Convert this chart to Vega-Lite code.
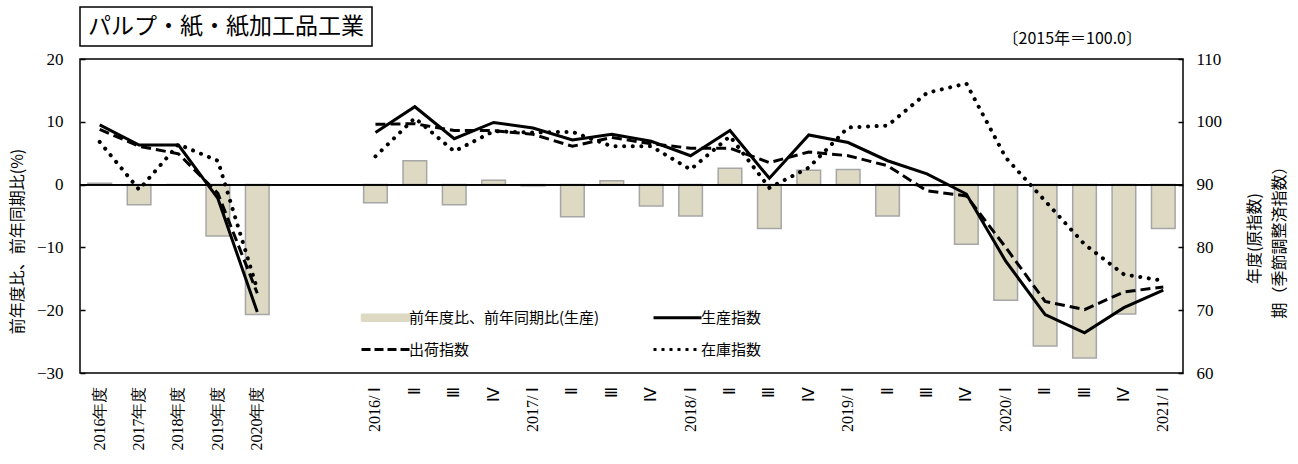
{
  "$schema": "https://vega.github.io/schema/vega-lite/v6.json",
  "padding": {"left": 8, "top": 6, "right": 0, "bottom": 0},
  "autosize": {"type": "pad"},
  "bounds": "flush",
  "spacing": 13,
  "config": {"font": "Noto Sans CJK JP"},
  "datasets": {
    "main": [
      {"x": "2016年度", "g": "a", "bar": 0.2, "prod": 99.5, "ship": 98.8, "inv": 96.8},
      {"x": "2017年度", "g": "a", "bar": -3.2, "prod": 96.3, "ship": 96.1, "inv": 89.2},
      {"x": "2018年度", "g": "a", "bar": 0.0, "prod": 96.3, "ship": 94.9, "inv": 96.4},
      {"x": "2019年度", "g": "a", "bar": -8.2, "prod": 87.8, "ship": 88.6, "inv": 93.8},
      {"x": "2020年度", "g": "a", "bar": -20.7, "prod": 69.7, "ship": 72.7, "inv": 73.3},
      {"x": "2016/Ⅰ", "g": "q", "bar": -2.9, "prod": 98.3, "ship": 99.6, "inv": 94.5},
      {"x": "2016/Ⅱ", "g": "q", "bar": 3.8, "prod": 102.4, "ship": 99.7, "inv": 100.6},
      {"x": "2016/Ⅲ", "g": "q", "bar": -3.2, "prod": 97.3, "ship": 98.6, "inv": 95.3},
      {"x": "2016/Ⅳ", "g": "q", "bar": 0.7, "prod": 99.9, "ship": 98.6, "inv": 98.5},
      {"x": "2017/Ⅰ", "g": "q", "bar": -0.2, "prod": 99.0, "ship": 98.0, "inv": 98.3},
      {"x": "2017/Ⅱ", "g": "q", "bar": -5.1, "prod": 97.1, "ship": 96.1, "inv": 98.4},
      {"x": "2017/Ⅲ", "g": "q", "bar": 0.6, "prod": 98.0, "ship": 97.5, "inv": 96.1},
      {"x": "2017/Ⅳ", "g": "q", "bar": -3.4, "prod": 96.9, "ship": 96.5, "inv": 96.1},
      {"x": "2018/Ⅰ", "g": "q", "bar": -5.0, "prod": 94.6, "ship": 95.8, "inv": 92.4},
      {"x": "2018/Ⅱ", "g": "q", "bar": 2.6, "prod": 98.6, "ship": 95.8, "inv": 97.7},
      {"x": "2018/Ⅲ", "g": "q", "bar": -7.0, "prod": 91.0, "ship": 93.5, "inv": 89.5},
      {"x": "2018/Ⅳ", "g": "q", "bar": 2.3, "prod": 97.9, "ship": 95.2, "inv": 92.7},
      {"x": "2019/Ⅰ", "g": "q", "bar": 2.4, "prod": 96.7, "ship": 94.6, "inv": 99.1},
      {"x": "2019/Ⅱ", "g": "q", "bar": -5.0, "prod": 93.8, "ship": 93.0, "inv": 99.4},
      {"x": "2019/Ⅲ", "g": "q", "bar": -0.2, "prod": 91.7, "ship": 89.0, "inv": 104.6},
      {"x": "2019/Ⅳ", "g": "q", "bar": -9.5, "prod": 88.5, "ship": 88.2, "inv": 106.1},
      {"x": "2020/Ⅰ", "g": "q", "bar": -18.4, "prod": 77.8, "ship": 80.0, "inv": 94.3},
      {"x": "2020/Ⅱ", "g": "q", "bar": -25.7, "prod": 69.3, "ship": 71.4, "inv": 87.4},
      {"x": "2020/Ⅲ", "g": "q", "bar": -27.6, "prod": 66.4, "ship": 70.1, "inv": 80.5},
      {"x": "2020/Ⅳ", "g": "q", "bar": -20.6, "prod": 70.4, "ship": 72.9, "inv": 75.7},
      {"x": "2021/Ⅰ", "g": "q", "bar": -7.0, "prod": 73.2, "ship": 73.7, "inv": 74.7}
    ]
  },
  "vconcat": [
    {
      "width": 292,
      "height": 39,
      "view": {"stroke": "black", "strokeWidth": 1.5},
      "data": {"values": [{"t": "パルプ・紙・紙加工品工業"}]},
      "mark": {"type": "text", "fontSize": 23, "font": "Noto Sans CJK JP", "color": "black"},
      "encoding": {"text": {"field": "t", "type": "nominal"}}
    },
    {
      "width": 1103,
      "height": 314,
      "view": {"stroke": "black", "strokeWidth": 1.5},
      "data": {"name": "main"},
      "title": {"text": "〔2015年＝100.0〕", "anchor": "end", "frame": "group", "fontSize": 16, "font": "Noto Sans CJK JP", "fontWeight": "normal", "color": "black", "dx": -41, "offset": 3},
      "resolve": {"scale": {"y": "independent"}},
      "layer": [
        {
          "layer": [
            {
              "mark": {"type": "bar", "stroke": "#a6a6a6", "strokeWidth": 1.5},
              "encoding": {
                "x": {"field": "x", "type": "nominal", "sort": null,
                  "scale": {"domain": ["2016年度","2017年度","2018年度","2019年度","2020年度","gap1","gap2","2016/Ⅰ","2016/Ⅱ","2016/Ⅲ","2016/Ⅳ","2017/Ⅰ","2017/Ⅱ","2017/Ⅲ","2017/Ⅳ","2018/Ⅰ","2018/Ⅱ","2018/Ⅲ","2018/Ⅳ","2019/Ⅰ","2019/Ⅱ","2019/Ⅲ","2019/Ⅳ","2020/Ⅰ","2020/Ⅱ","2020/Ⅲ","2020/Ⅳ","2021/Ⅰ"], "paddingInner": 0.4, "paddingOuter": 0.2},
                  "axis": {"title": null, "labelAngle": -90, "labelFont": "Liberation Serif", "labelFontSize": 16, "labelColor": "black", "ticks": false, "domain": false, "labelPadding": 13, "labelOverlap": false,
                    "labelExpr": "indexof(datum.value,'gap')==0 ? '' : (indexof(datum.value,'/Ⅰ')>0 ? replace(datum.value,'/','/ ') : (indexof(datum.value,'/')>0 ? slice(datum.value,5) : datum.value))"}},
                "y": {"field": "bar", "type": "quantitative",
                  "scale": {"domain": [-30, 20], "nice": false, "zero": false},
                  "axis": {"orient": "left", "values": [-30,-20,-10,0,10,20], "grid": false, "domain": false,
                    "title": "前年度比、前年同期比(%)", "titleFont": "Noto Sans CJK JP", "titleFontSize": 16, "titleFontWeight": "normal", "titleColor": "black",
                    "titleAngle": -90, "titleX": -71, "titleY": 182, "titleBaseline": "top", "titleAlign": "center",
                    "labelFont": "Liberation Serif", "labelFontSize": 17, "labelColor": "black", "tickColor": "black", "tickSize": -5, "tickWidth": 1.5, "labelPadding": 22}},
                "color": {"datum": "前年度比、前年同期比(生産)",
                  "scale": {"domain": ["前年度比、前年同期比(生産)", "生産指数", "出荷指数", "在庫指数"], "range": ["#ddd9c3", "black", "black", "black"]},
                  "legend": {"title": null, "orient": "none", "legendX": 279, "legendY": 303, "direction": "horizontal", "columns": 2, "columnPadding": 47, "rowPadding": 16,
                    "labelFont": "Noto Sans CJK JP", "labelFontSize": 15, "labelColor": "black", "labelLimit": 400, "symbolSize": 100, "labelOffset": 35,
                    "symbolType": {"expr": "datum.value === '前年度比、前年同期比(生産)' ? 'M-1,-0.7H8.6V0.7H-1Z' : 'M-1,0H8.6'"},
                    "symbolStrokeWidth": {"expr": "datum.value === '前年度比、前年同期比(生産)' ? 1.5 : 3"},
                    "symbolDash": {"expr": "datum.value === '出荷指数' ? [9,4] : (datum.value === '在庫指数' ? [3,5] : [1,0])"}}}
              }
            },
            {
              "mark": {"type": "rule", "color": "black", "strokeWidth": 1},
              "encoding": {"y": {"datum": 0, "type": "quantitative",
                  "scale": {"domain": [-30, 20], "nice": false, "zero": false},
                  "axis": {"orient": "left", "values": [-30,-20,-10,0,10,20], "grid": false, "domain": false,
                    "title": "前年度比、前年同期比(%)", "titleFont": "Noto Sans CJK JP", "titleFontSize": 16, "titleFontWeight": "normal", "titleColor": "black",
                    "titleAngle": -90, "titleX": -71, "titleY": 182, "titleBaseline": "top", "titleAlign": "center",
                    "labelFont": "Liberation Serif", "labelFontSize": 17, "labelColor": "black", "tickColor": "black", "tickSize": -5, "tickWidth": 1.5, "labelPadding": 22}}}
            }
          ]
        },
        {
          "layer": [
            {
              "mark": {"type": "line", "strokeWidth": 3},
              "encoding": {
                "x": {"field": "x", "type": "nominal", "sort": null,
                  "scale": {"domain": ["2016年度","2017年度","2018年度","2019年度","2020年度","gap1","gap2","2016/Ⅰ","2016/Ⅱ","2016/Ⅲ","2016/Ⅳ","2017/Ⅰ","2017/Ⅱ","2017/Ⅲ","2017/Ⅳ","2018/Ⅰ","2018/Ⅱ","2018/Ⅲ","2018/Ⅳ","2019/Ⅰ","2019/Ⅱ","2019/Ⅲ","2019/Ⅳ","2020/Ⅰ","2020/Ⅱ","2020/Ⅲ","2020/Ⅳ","2021/Ⅰ"], "paddingInner": 0.4, "paddingOuter": 0.2},
                  "axis": {"title": null, "labelAngle": -90, "labelFont": "Liberation Serif", "labelFontSize": 16, "labelColor": "black", "ticks": false, "domain": false, "labelPadding": 13, "labelOverlap": false,
                    "labelExpr": "indexof(datum.value,'gap')==0 ? '' : (indexof(datum.value,'/Ⅰ')>0 ? replace(datum.value,'/','/ ') : (indexof(datum.value,'/')>0 ? slice(datum.value,5) : datum.value))"}},
                "y": {"field": "prod", "type": "quantitative",
                  "scale": {"domain": [60, 110], "nice": false, "zero": false},
                  "axis": {"orient": "right", "values": [60,70,80,90,100,110], "grid": false, "domain": false,
                    "title": ["年度(原指数)", "期（季節調整済指数）"], "titleFont": "Noto Sans CJK JP", "titleFontSize": 16, "titleFontWeight": "normal", "titleColor": "black",
                    "titleAngle": -90, "titleX": 63, "titleY": 179, "titleBaseline": "top", "titleAlign": "center", "titleLineHeight": 25,
                    "labelFont": "Liberation Serif", "labelFontSize": 17, "labelColor": "black", "tickColor": "black", "tickSize": -5, "tickWidth": 1.5, "labelPadding": 18}},
                "detail": {"field": "g"},
                "color": {"datum": "生産指数"}
              }
            },
            {
              "mark": {"type": "line", "strokeWidth": 3, "strokeDash": [10, 5]},
              "encoding": {
                "x": {"field": "x", "type": "nominal", "sort": null,
                  "scale": {"domain": ["2016年度","2017年度","2018年度","2019年度","2020年度","gap1","gap2","2016/Ⅰ","2016/Ⅱ","2016/Ⅲ","2016/Ⅳ","2017/Ⅰ","2017/Ⅱ","2017/Ⅲ","2017/Ⅳ","2018/Ⅰ","2018/Ⅱ","2018/Ⅲ","2018/Ⅳ","2019/Ⅰ","2019/Ⅱ","2019/Ⅲ","2019/Ⅳ","2020/Ⅰ","2020/Ⅱ","2020/Ⅲ","2020/Ⅳ","2021/Ⅰ"], "paddingInner": 0.4, "paddingOuter": 0.2},
                  "axis": {"title": null, "labelAngle": -90, "labelFont": "Liberation Serif", "labelFontSize": 16, "labelColor": "black", "ticks": false, "domain": false, "labelPadding": 13, "labelOverlap": false,
                    "labelExpr": "indexof(datum.value,'gap')==0 ? '' : (indexof(datum.value,'/Ⅰ')>0 ? replace(datum.value,'/','/ ') : (indexof(datum.value,'/')>0 ? slice(datum.value,5) : datum.value))"}},
                "y": {"field": "ship", "type": "quantitative",
                  "scale": {"domain": [60, 110], "nice": false, "zero": false},
                  "axis": {"orient": "right", "values": [60,70,80,90,100,110], "grid": false, "domain": false,
                    "title": ["年度(原指数)", "期（季節調整済指数）"], "titleFont": "Noto Sans CJK JP", "titleFontSize": 16, "titleFontWeight": "normal", "titleColor": "black",
                    "titleAngle": -90, "titleX": 63, "titleY": 179, "titleBaseline": "top", "titleAlign": "center", "titleLineHeight": 25,
                    "labelFont": "Liberation Serif", "labelFontSize": 17, "labelColor": "black", "tickColor": "black", "tickSize": -5, "tickWidth": 1.5, "labelPadding": 18}},
                "detail": {"field": "g"},
                "color": {"datum": "出荷指数"}
              }
            },
            {
              "mark": {"type": "line", "strokeWidth": 4, "strokeDash": [0.1, 8.5], "strokeCap": "round"},
              "encoding": {
                "x": {"field": "x", "type": "nominal", "sort": null,
                  "scale": {"domain": ["2016年度","2017年度","2018年度","2019年度","2020年度","gap1","gap2","2016/Ⅰ","2016/Ⅱ","2016/Ⅲ","2016/Ⅳ","2017/Ⅰ","2017/Ⅱ","2017/Ⅲ","2017/Ⅳ","2018/Ⅰ","2018/Ⅱ","2018/Ⅲ","2018/Ⅳ","2019/Ⅰ","2019/Ⅱ","2019/Ⅲ","2019/Ⅳ","2020/Ⅰ","2020/Ⅱ","2020/Ⅲ","2020/Ⅳ","2021/Ⅰ"], "paddingInner": 0.4, "paddingOuter": 0.2},
                  "axis": {"title": null, "labelAngle": -90, "labelFont": "Liberation Serif", "labelFontSize": 16, "labelColor": "black", "ticks": false, "domain": false, "labelPadding": 13, "labelOverlap": false,
                    "labelExpr": "indexof(datum.value,'gap')==0 ? '' : (indexof(datum.value,'/Ⅰ')>0 ? replace(datum.value,'/','/ ') : (indexof(datum.value,'/')>0 ? slice(datum.value,5) : datum.value))"}},
                "y": {"field": "inv", "type": "quantitative",
                  "scale": {"domain": [60, 110], "nice": false, "zero": false},
                  "axis": {"orient": "right", "values": [60,70,80,90,100,110], "grid": false, "domain": false,
                    "title": ["年度(原指数)", "期（季節調整済指数）"], "titleFont": "Noto Sans CJK JP", "titleFontSize": 16, "titleFontWeight": "normal", "titleColor": "black",
                    "titleAngle": -90, "titleX": 63, "titleY": 179, "titleBaseline": "top", "titleAlign": "center", "titleLineHeight": 25,
                    "labelFont": "Liberation Serif", "labelFontSize": 17, "labelColor": "black", "tickColor": "black", "tickSize": -5, "tickWidth": 1.5, "labelPadding": 18}},
                "detail": {"field": "g"},
                "color": {"datum": "在庫指数"}
              }
            }
          ]
        }
      ]
    }
  ]
}
